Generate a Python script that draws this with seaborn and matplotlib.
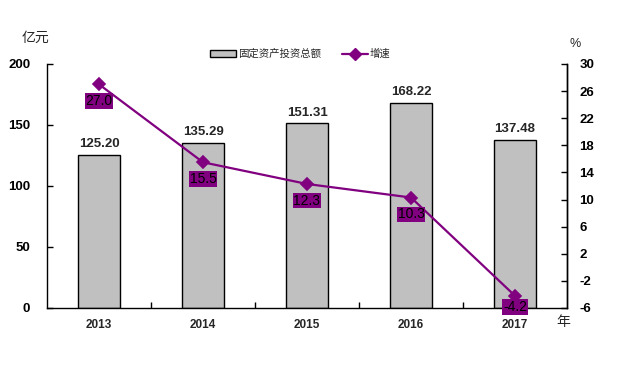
import matplotlib
matplotlib.use("Agg")
import matplotlib.pyplot as plt
import seaborn as sns
import pandas as pd
from matplotlib.lines import Line2D
from matplotlib.patches import Patch

years = ["2013", "2014", "2015", "2016", "2017"]
investment = [125.20, 135.29, 151.31, 168.22, 137.48]
growth = [27.0, 15.5, 12.3, 10.3, -4.2]
left_ticks = [0, 50, 100, 150, 200]
right_ticks = [30, 26, 22, 18, 14, 10, 6, 2, -2, -6]

sns.set_theme(style="white")
plt.rcParams['font.family'] = ['Liberation Sans', 'Noto Sans CJK SC', 'DejaVu Sans']
plt.rcParams['axes.unicode_minus'] = False
cjk = ['Noto Sans CJK SC', 'DejaVu Sans']

df = pd.DataFrame({"year": years, "inv": investment, "g": growth})

fig = plt.figure(figsize=(6.37, 3.86), dpi=100)
ax = fig.add_axes([47/637, 1-308/386, (567-47)/637, (308-64)/386])
sns.barplot(data=df, x="year", y="inv", ax=ax, color="#c0c0c0", edgecolor="black",
            linewidth=1, width=0.4, saturation=1)
ax.set_xlim(-0.5, 4.5)
ax.set_ylim(0, 200)
ax.set_yticks(left_ticks)
ax.set_xlabel("")
ax.set_ylabel("")
ax.spines["top"].set_visible(False)
for s in ["left", "bottom", "right"]:
    ax.spines[s].set_color("black")
    ax.spines[s].set_linewidth(1)
ax.tick_params(axis="y", direction="in", length=4, width=1, colors="black", labelsize=9.5, pad=12, left=True)
ax.tick_params(axis="x", length=0, labelsize=8.5, pad=8)
for lab in ax.get_yticklabels() + ax.get_xticklabels():
    lab.set_fontweight("bold")
ax.set_xticks([0.5, 1.5, 2.5, 3.5], minor=True)
ax.tick_params(axis="x", which="minor", direction="in", length=4, width=1, bottom=True, color="black")

for i, v in enumerate(investment):
    ax.text(i, v + 4, f"{v:.2f}", ha="center", va="bottom", fontsize=9.5, fontweight="bold")

ax2 = ax.twinx()
sns.pointplot(data=df, x="year", y="g", ax=ax2, color="#800080", markers="D",
              markersize=6, linewidth=1.6)
ax2.set_xlim(-0.5, 4.5)
ax2.set_ylim(-6, 30)
ax2.set_yticks(right_ticks)
ax2.set_ylabel("")
ax2.set_xlabel("")
for s in ["top", "left", "bottom"]:
    ax2.spines[s].set_visible(False)
ax2.spines["right"].set_color("black")
ax2.spines["right"].set_linewidth(1)
ax2.tick_params(axis="y", direction="in", length=4, width=1, colors="black", labelsize=9.5, pad=9, right=True)
for lab in ax2.get_yticklabels():
    lab.set_fontweight("bold")

for i, v in enumerate(growth):
    off = -7 if i < len(growth) - 1 else -3
    ax2.annotate(f"{v:.1f}", (i, v), xytext=(0, off), textcoords="offset points",
                 ha="center", va="top", fontsize=10, color="black",
                 bbox=dict(boxstyle="square,pad=0.05", fc="#800080", ec="none"))

fig.text(22/637, 1-38/386, "亿元", fontsize=10, family=cjk, va="center", ha="left")
fig.text(570/637, 1-44/386, "%", fontsize=9, va="center", ha="left")
fig.text(556/637, 1-322/386, "年", fontsize=10, family=cjk, va="center", ha="left")

handles = [Patch(facecolor="#c0c0c0", edgecolor="black", linewidth=1),
           Line2D([0], [0], color="#800080", marker="D", markersize=6, linewidth=1.6)]
fig.legend(handles, ["固定资产投资总额", "增速"], loc="center", ncol=2,
           bbox_to_anchor=(300/637, 1-54/386), frameon=False,
           prop={"family": cjk, "size": 7.5}, handlelength=2.5, columnspacing=2,
           handletextpad=0.2)

fig.savefig("out.png", dpi=100)
